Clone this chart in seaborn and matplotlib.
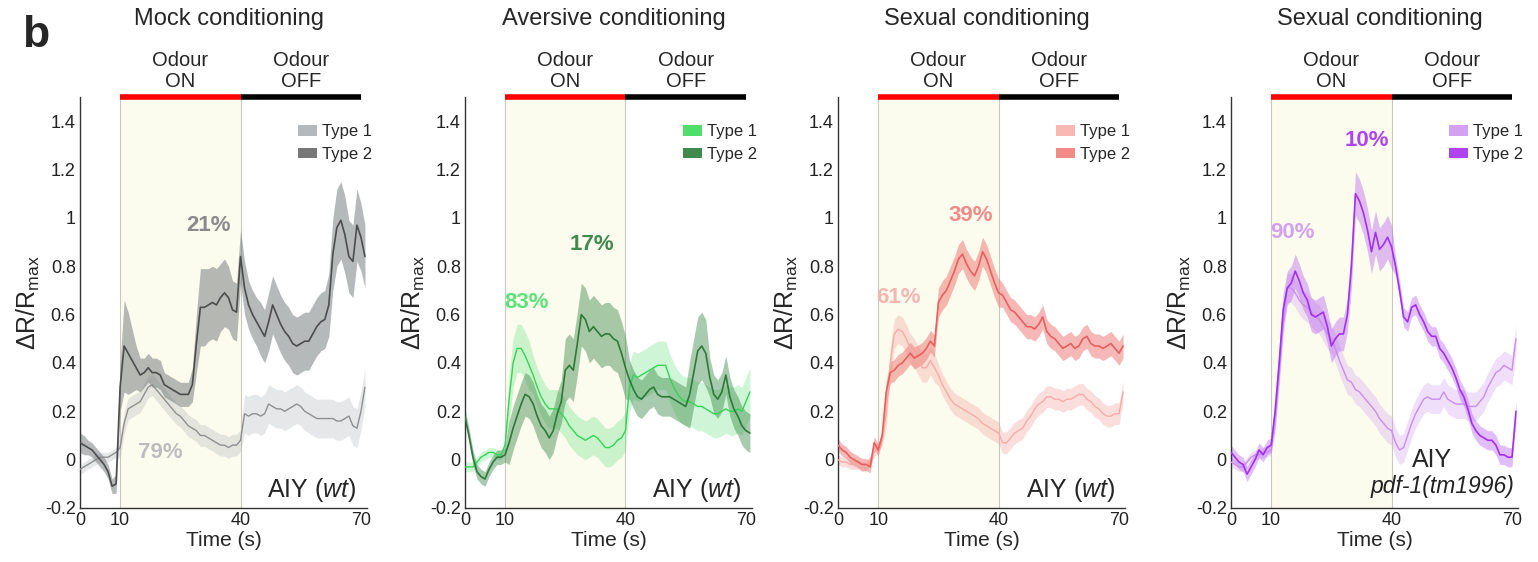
import numpy as np
import matplotlib
matplotlib.use('Agg')
import matplotlib.pyplot as plt
from matplotlib.patches import Patch
import seaborn as sns

# time axis (s), one sample per second
time = np.arange(0, 72)
odour_on = [10, 40]
odour_off = [40, 70]

titles = ['Mock conditioning', 'Aversive conditioning', 'Sexual conditioning', 'Sexual conditioning']

# ---- Mock conditioning
mock_t1 = [-0.04, -0.03, -0.02, -0.01, 0.00, 0.01, 0.01, 0.01, 0.02, 0.03,
           0.05, 0.15, 0.21, 0.22, 0.23, 0.24, 0.27, 0.30, 0.31, 0.29,
           0.27, 0.25, 0.23, 0.21, 0.19, 0.18, 0.16, 0.14, 0.13, 0.12,
           0.10, 0.10, 0.09, 0.08, 0.07, 0.06, 0.06, 0.05, 0.06, 0.06,
           0.08, 0.19, 0.18, 0.19, 0.19, 0.18, 0.19, 0.23, 0.22, 0.21,
           0.21, 0.20, 0.21, 0.22, 0.23, 0.22, 0.20, 0.19, 0.18, 0.17,
           0.17, 0.17, 0.17, 0.17, 0.16, 0.16, 0.17, 0.18, 0.14, 0.13,
           0.20, 0.30]
mock_t1_sem = [0.02] * 10 + [0.045] * 31 + [0.08] * 31
mock_t2 = [0.07, 0.06, 0.05, 0.04, 0.02, 0.00, -0.02, -0.05, -0.11, -0.10,
           0.30, 0.47, 0.44, 0.41, 0.38, 0.35, 0.36, 0.38, 0.36, 0.36,
           0.35, 0.31, 0.30, 0.29, 0.28, 0.27, 0.27, 0.27, 0.31, 0.48,
           0.63, 0.63, 0.64, 0.65, 0.64, 0.67, 0.69, 0.67, 0.62, 0.61,
           0.84, 0.71, 0.64, 0.60, 0.57, 0.54, 0.51, 0.57, 0.64, 0.60,
           0.56, 0.53, 0.51, 0.48, 0.47, 0.48, 0.49, 0.49, 0.52, 0.55,
           0.57, 0.58, 0.64, 0.85, 0.96, 0.99, 0.93, 0.84, 0.82, 0.97,
           0.92, 0.84]
mock_t2_sem = [0.04, 0.04, 0.03, 0.03, 0.03, 0.03, 0.03, 0.03, 0.03, 0.04,
               0.10, 0.19, 0.17, 0.13, 0.09, 0.07, 0.06, 0.06, 0.06, 0.06,
               0.06, 0.05, 0.05, 0.05, 0.05, 0.05, 0.05, 0.05, 0.07, 0.12,
               0.16, 0.16, 0.15, 0.15, 0.15, 0.14, 0.14, 0.13, 0.12, 0.12,
               0.11, 0.11, 0.10, 0.10, 0.10, 0.11, 0.11, 0.12, 0.12, 0.12,
               0.12, 0.12, 0.12, 0.12, 0.12, 0.12, 0.12, 0.12, 0.12, 0.12,
               0.12, 0.12, 0.13, 0.15, 0.16, 0.16, 0.16, 0.15, 0.15, 0.15,
               0.14, 0.13]

# ---- Aversive conditioning
avers_t1 = [-0.03, -0.03, -0.03, -0.01, 0.01, 0.02, 0.03, 0.03, 0.02, 0.02,
            0.06, 0.25, 0.40, 0.46, 0.46, 0.43, 0.39, 0.35, 0.30, 0.26,
            0.23, 0.21, 0.21, 0.21, 0.19, 0.17, 0.14, 0.12, 0.10, 0.09,
            0.08, 0.09, 0.10, 0.09, 0.07, 0.05, 0.05, 0.06, 0.08, 0.09,
            0.12, 0.30, 0.35, 0.34, 0.35, 0.36, 0.37, 0.38, 0.39, 0.39,
            0.39, 0.34, 0.30, 0.27, 0.25, 0.24, 0.24, 0.23, 0.22, 0.22,
            0.21, 0.20, 0.19, 0.19, 0.20, 0.21, 0.20, 0.20, 0.21, 0.20,
            0.24, 0.28]
avers_t1_sem = [0.02] * 11 + [0.10] * 6 + [0.08] * 24 + [0.10] * 31
avers_t2 = [0.18, 0.10, 0.01, -0.05, -0.07, -0.08, -0.04, -0.01, 0.01, 0.01,
            0.02, 0.07, 0.13, 0.18, 0.23, 0.27, 0.26, 0.23, 0.18, 0.14,
            0.12, 0.09, 0.12, 0.19, 0.24, 0.37, 0.39, 0.37, 0.48, 0.60,
            0.58, 0.53, 0.55, 0.53, 0.51, 0.52, 0.52, 0.50, 0.49, 0.44,
            0.38, 0.33, 0.29, 0.26, 0.25, 0.27, 0.29, 0.30, 0.27, 0.26,
            0.26, 0.26, 0.25, 0.24, 0.23, 0.22, 0.27, 0.36, 0.45, 0.47,
            0.44, 0.34, 0.27, 0.25, 0.28, 0.35, 0.26, 0.21, 0.18, 0.14,
            0.12, 0.11]
avers_t2_sem = [0.03] * 11 + [0.09] * 14 + [0.13] * 16 + [0.08] * 15 + [0.14] * 5 + [0.08] * 11

# ---- Sexual conditioning (wt)
sex_t1 = [0.00, -0.01, -0.01, -0.02, -0.02, -0.02, -0.03, -0.03, 0.00, 0.03,
          0.05, 0.08, 0.19, 0.40, 0.52, 0.54, 0.53, 0.50, 0.46, 0.44,
          0.41, 0.38, 0.38, 0.41, 0.38, 0.35, 0.31, 0.28, 0.25, 0.23,
          0.22, 0.21, 0.20, 0.19, 0.18, 0.17, 0.15, 0.14, 0.13, 0.12,
          0.11, 0.07, 0.07, 0.09, 0.11, 0.12, 0.13, 0.16, 0.18, 0.21,
          0.23, 0.24, 0.26, 0.26, 0.25, 0.25, 0.24, 0.25, 0.25, 0.26,
          0.27, 0.27, 0.25, 0.24, 0.22, 0.21, 0.19, 0.18, 0.18, 0.19,
          0.19, 0.28]
sex_t1_sem = [0.02] * 12 + [0.06] * 13 + [0.045] * 47
sex_t2 = [0.06, 0.04, 0.03, 0.01, 0.00, -0.01, -0.02, -0.02, -0.03, 0.07,
          0.04, 0.10, 0.28, 0.36, 0.37, 0.39, 0.40, 0.42, 0.44, 0.42,
          0.43, 0.44, 0.46, 0.49, 0.47, 0.65, 0.68, 0.70, 0.74, 0.78,
          0.83, 0.85, 0.81, 0.78, 0.76, 0.80, 0.86, 0.83, 0.78, 0.73,
          0.69, 0.68, 0.65, 0.62, 0.61, 0.59, 0.57, 0.55, 0.55, 0.54,
          0.56, 0.59, 0.53, 0.51, 0.50, 0.48, 0.46, 0.47, 0.48, 0.46,
          0.47, 0.50, 0.51, 0.48, 0.47, 0.47, 0.46, 0.47, 0.48, 0.46,
          0.44, 0.47]
sex_t2_sem = [0.025] * 12 + [0.045] * 13 + [0.06] * 16 + [0.05] * 31

# ---- Sexual conditioning (pdf-1)
pdf_t1 = [-0.01, -0.02, -0.03, -0.03, -0.01, 0.01, 0.02, 0.02, 0.03, 0.03,
          0.04, 0.18, 0.36, 0.56, 0.71, 0.71, 0.69, 0.66, 0.64, 0.63,
          0.61, 0.59, 0.58, 0.55, 0.52, 0.50, 0.46, 0.41, 0.37, 0.33,
          0.32, 0.29, 0.28, 0.26, 0.24, 0.22, 0.20, 0.17, 0.15, 0.13,
          0.12, 0.07, 0.04, 0.05, 0.10, 0.15, 0.19, 0.22, 0.25, 0.26,
          0.25, 0.25, 0.25, 0.28, 0.25, 0.24, 0.23, 0.23, 0.23, 0.22,
          0.22, 0.22, 0.24, 0.26, 0.30, 0.33, 0.36, 0.37, 0.39, 0.38,
          0.37, 0.50]
pdf_t1_sem = [0.02] * 11 + [0.06] * 61
pdf_t2 = [0.03, 0.01, -0.01, -0.02, -0.06, -0.03, 0.00, 0.04, 0.02, 0.05,
          0.06, 0.20, 0.40, 0.62, 0.71, 0.73, 0.78, 0.74, 0.69, 0.66,
          0.60, 0.59, 0.60, 0.61, 0.55, 0.47, 0.50, 0.52, 0.52, 0.60,
          0.80, 1.10, 1.07, 1.02, 0.95, 0.86, 0.94, 0.87, 0.89, 0.92,
          0.88, 0.80, 0.70, 0.59, 0.57, 0.63, 0.64, 0.60, 0.57, 0.53,
          0.51, 0.51, 0.46, 0.44, 0.41, 0.38, 0.34, 0.29, 0.26, 0.21,
          0.15, 0.12, 0.10, 0.09, 0.08, 0.08, 0.06, 0.02, 0.02, 0.01,
          0.01, 0.20]
pdf_t2_sem = [0.03] * 11 + [0.07] * 19 + [0.09] * 11 + [0.04] * 31

means = [(mock_t1, mock_t2), (avers_t1, avers_t2), (sex_t1, sex_t2), (pdf_t1, pdf_t2)]
sems = [(mock_t1_sem, mock_t2_sem), (avers_t1_sem, avers_t2_sem),
        (sex_t1_sem, sex_t2_sem), (pdf_t1_sem, pdf_t2_sem)]

percents = [('79%', '21%'), ('83%', '17%'), ('61%', '39%'), ('90%', '10%')]

# styling per panel: (type1, type2)
line_cols = [('#8f8f8f', '#4d4d4d'), ('#33d454', '#2d7a39'),
             ('#f6aca6', '#e8605e'), ('#c98cf0', '#a32ff0')]
band_cols = [('#b8bcbf', '#6f7477'), ('#5ee27a', '#3f8a4c'),
             ('#f4a29c', '#ee7f7b'), ('#cf98f0', '#b65cf0')]
band_alpha = [(0.35, 0.5), (0.3, 0.45), (0.35, 0.55), (0.3, 0.4)]
leg_cols = [('#b5b9bc', '#777777'), ('#4ddf6a', '#3f8a4c'),
            ('#f8b8b4', '#f28b88'), ('#d4a0f2', '#b044f0')]
pct_cols = [('#bdbdbd', '#8a8a8a'), ('#5ee27a', '#3f8a4c'),
            ('#f7b5b0', '#f08a88'), ('#d4a0f2', '#b044f0')]
pct_pos = [((19.9, 0.03), (31.9, 0.97)), ((15.4, 0.65), (31.6, 0.89)),
           ((15.0, 0.67), (33.1, 1.01)), ((15.2, 0.94), (33.9, 1.32))]

sns.set_style('white')
plt.rcParams['font.family'] = ['Liberation Sans', 'DejaVu Sans']
plt.rcParams['mathtext.fontset'] = 'custom'
plt.rcParams['mathtext.rm'] = 'Liberation Sans'
plt.rcParams['mathtext.it'] = 'Liberation Sans:italic'

fig = plt.figure(figsize=(15.38, 5.62), dpi=100)
lefts = [0.0520, 0.3023, 0.5449, 0.8004]

for i in range(4):
    ax = fig.add_axes([lefts[i], 0.0961, 0.1866, 0.7313])
    ax.axvspan(odour_on[0], odour_on[1], facecolor='#fbfbee', edgecolor='#c8c8c0',
               linewidth=0.8, zorder=0)

    for k in range(2):
        m = np.array(means[i][k])
        s = np.array(sems[i][k])
        ax.fill_between(time, m - s, m + s, color=band_cols[i][k],
                        alpha=band_alpha[i][k], linewidth=0, zorder=1 + k)
    for k in range(2):
        sns.lineplot(x=time, y=means[i][k], ax=ax, color=line_cols[i][k],
                     linewidth=1.0 if k == 0 else 1.2, zorder=3 + k)

    for k in range(2):
        ax.text(pct_pos[i][k][0], pct_pos[i][k][1], percents[i][k], color=pct_cols[i][k],
                fontsize=16, fontweight='bold', ha='center', va='center', zorder=6)

    # odour bar on top of the axes
    ax.plot(odour_on, [1.5, 1.5], color='#ff0000', linewidth=4, clip_on=False,
            solid_capstyle='butt', zorder=7)
    ax.plot(odour_off, [1.5, 1.5], color='#000000', linewidth=4, clip_on=False,
            solid_capstyle='butt', zorder=7)
    ax.text(np.mean(odour_on), 1.525, 'Odour\nON', ha='center', va='bottom',
            fontsize=14.5, linespacing=1.1)
    ax.text(np.mean(odour_off), 1.525, 'Odour\nOFF', ha='center', va='bottom',
            fontsize=14.5, linespacing=1.1)
    ax.text(0.52, 1.19, titles[i], transform=ax.transAxes, ha='center', va='center',
            fontsize=17)

    handles = [Patch(facecolor=leg_cols[i][0], edgecolor='none', label='Type 1'),
               Patch(facecolor=leg_cols[i][1], edgecolor='none', label='Type 2')]
    ax.legend(handles=handles, loc='upper right', bbox_to_anchor=(1.04, 0.95),
              frameon=False, fontsize=12, handlelength=1.1, handleheight=0.6,
              handletextpad=0.3, labelspacing=0.45, borderaxespad=0)

    if i < 3:
        ax.text(69, -0.155, 'AIY ($\\it{wt}$)', ha='right', va='baseline', fontsize=18)
    else:
        ax.text(50, -0.03, 'AIY', ha='center', va='baseline', fontsize=18)
        ax.text(70.5, -0.14, 'pdf-1(tm1996)', ha='right', va='baseline', fontsize=16.5,
                style='italic', color='#222222')

    ax.set_xlim(0, 71.5)
    ax.set_ylim(-0.2, 1.5)
    ax.set_xticks([0, 10, 40, 70])
    yt = [-0.2, 0, 0.2, 0.4, 0.6, 0.8, 1.0, 1.2, 1.4]
    ax.set_yticks(yt)
    ax.set_yticklabels(['-0.2', '0', '0.2', '0.4', '0.6', '0.8', '1', '1.2', '1.4'])
    ax.tick_params(direction='in', length=4, width=0.8, labelsize=13, colors='#222222',
                   pad=3)
    for sp in ['top', 'right']:
        ax.spines[sp].set_visible(False)
    for sp in ['left', 'bottom']:
        ax.spines[sp].set_color('#333333')
        ax.spines[sp].set_linewidth(1.0)
    ax.set_xlabel('Time (s)', fontsize=15, labelpad=1)
    ax.set_ylabel('$\\Delta$R/R$_{\\mathrm{max}}$', fontsize=18, labelpad=2)

fig.text(0.0143, 0.916, 'b', fontsize=32, fontweight='bold', va='baseline')

plt.savefig('out.png', dpi=100)
